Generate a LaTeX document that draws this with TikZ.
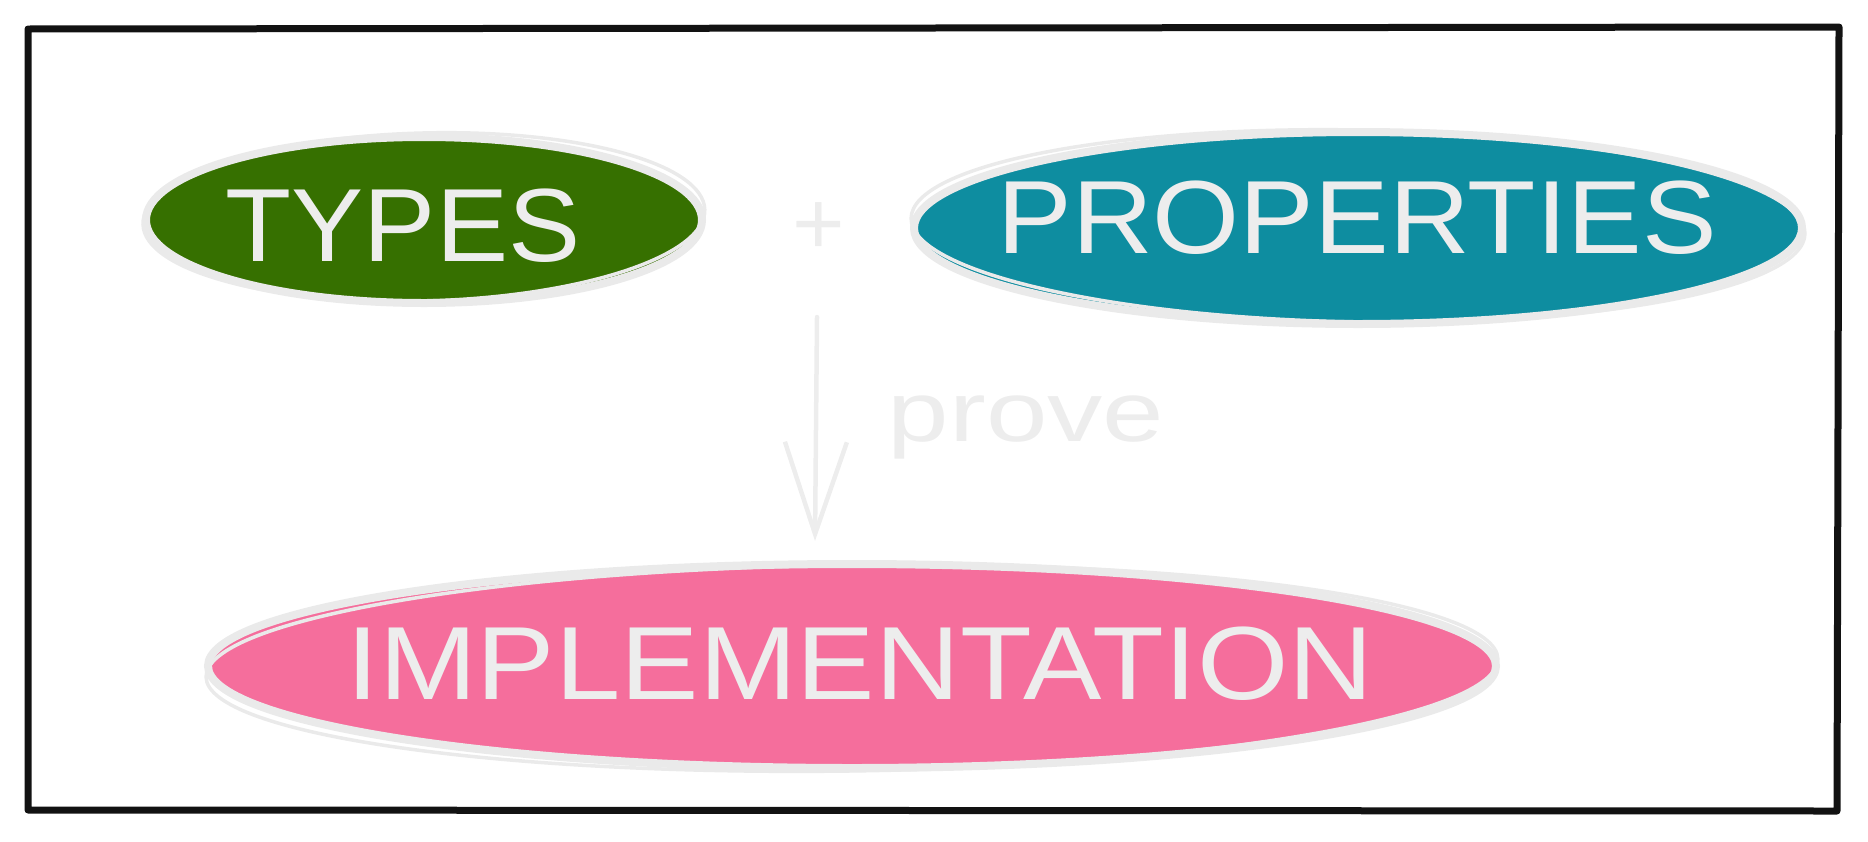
\documentclass[tikz,border=0pt]{standalone}
\usepackage{fontspec}
\setmainfont{Liberation Sans}
\usetikzlibrary{arrows.meta,shapes.geometric}

\definecolor{frameink}{HTML}{121212}
\definecolor{typesgreen}{HTML}{367000}
\definecolor{propteal}{HTML}{0E8DA0}
\definecolor{implpink}{HTML}{F56E9C}
\definecolor{chalk}{HTML}{EDEDED}
\definecolor{rim}{HTML}{EAEAEA}

\tikzset{
  blob/.style={ellipse, inner sep=0pt, draw=rim, line width=8pt},
  roughrim/.style={draw=rim, line width=3.5pt},
  bigword/.style={text=chalk, font=\fontsize{104}{104}\selectfont, inner sep=0pt},
  noteword/.style={text=chalk, font=\fontsize{85}{85}\selectfont, inner sep=0pt},
  sketchline/.style={draw=chalk, line width=4.5pt, line cap=round, line join=round},
}

\begin{document}
\begin{tikzpicture}[x=1pt,y=-1pt]
  \useasboundingbox (0,0) rectangle (1868,841);

  % hand-drawn frame
  \draw[frameink, line width=7pt, line join=round, line cap=round]
    (28,29) -- (1839,27) -- (1837,811) -- (28,810) -- cycle;

  % the three ideas
  \node[blob, fill=typesgreen, minimum width=556pt, minimum height=166pt] (typesblob) at (424,220) {};
  \node[blob, fill=propteal, minimum width=888pt, minimum height=192pt] (propblob) at (1358,228) {};
  \node[blob, fill=implpink, minimum width=1288pt, minimum height=204pt] (implblob) at (852,666) {};

  % second, slightly skewed pass of each rim
  \draw[roughrim, rotate around={1.5:(typesblob.center)}] ([yshift=3pt]typesblob.center) ellipse (281pt and 84pt);
  \draw[roughrim, rotate around={-1:(propblob.center)}] ([yshift=2pt]propblob.center) ellipse (447pt and 96pt);
  \draw[roughrim, rotate around={0.8:(implblob.center)}] ([yshift=-2pt]implblob.center) ellipse (646pt and 103pt);

  \node[bigword] (types) at (403,226) {\scalebox{1.04}[1]{TYPES}};
  \node[bigword] (props) at (1357,218) {\scalebox{1.076}[1]{PROPERTIES}};
  \node[bigword] (impl) at (860,664) {\scalebox{1.13}[1]{IMPLEMENTATION}};

  \node[text=chalk, font=\fontsize{90}{90}\selectfont, inner sep=0pt] (plus) at (819,229) {+};

  % proof arrow
  \coordinate (arrowtop) at (817,317);
  \coordinate (arrowtip) at (815,541);
  \draw[sketchline, -{Straight Barb[length=92pt, width=62pt, line width=4.5pt]}] (arrowtop) -- (arrowtip);

  \node[noteword, anchor=base] (prove) at (1026,441) {\scalebox{1.3}[1]{prove}};
\end{tikzpicture}
\end{document}
